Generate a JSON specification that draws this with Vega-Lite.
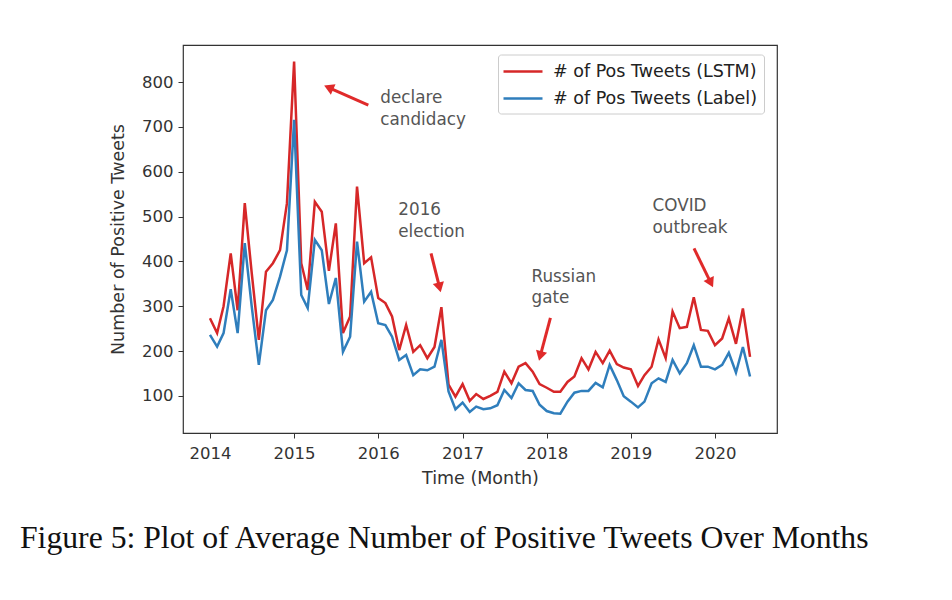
{
  "$schema": "https://vega.github.io/schema/vega-lite/v6.json",
  "autosize": {"type": "none"},
  "width": 594,
  "height": 388,
  "padding": {"left": 183, "top": 45, "right": 175, "bottom": 167},
  "background": "white",
  "config": {
    "font": "DejaVu Sans",
    "view": {"stroke": "#333333", "strokeWidth": 1.2},
    "axis": {
      "grid": false, "domain": false, "tickColor": "#333333", "tickSize": 5, "tickWidth": 1,
      "labelFont": "DejaVu Sans", "labelFontSize": 16.5, "labelColor": "#333333",
      "titleFont": "DejaVu Sans", "titleFontSize": 17.5, "titleFontWeight": "normal", "titleColor": "#333333"
    },
    "axisX": {"labelPadding": 7, "titlePadding": 8},
    "axisY": {"labelPadding": 5, "titlePadding": 14}
  },
  "title": {
    "text": "Figure 5: Plot of Average Number of Positive Tweets Over Months",
    "orient": "bottom", "anchor": "start", "frame": "group",
    "font": "Liberation Serif", "fontSize": 31.7, "fontWeight": "normal", "color": "#111111",
    "dx": -163, "offset": 36
  },
  "datasets": {
    "tweets": [
      {"month": "2014-01-01", "lstm": 273, "label": 236},
      {"month": "2014-02-01", "lstm": 240, "label": 210},
      {"month": "2014-03-01", "lstm": 300, "label": 240},
      {"month": "2014-04-01", "lstm": 418, "label": 338},
      {"month": "2014-05-01", "lstm": 291, "label": 240},
      {"month": "2014-06-01", "lstm": 530, "label": 441},
      {"month": "2014-07-01", "lstm": 375, "label": 300},
      {"month": "2014-08-01", "lstm": 225, "label": 169},
      {"month": "2014-09-01", "lstm": 377, "label": 291},
      {"month": "2014-10-01", "lstm": 396, "label": 314},
      {"month": "2014-11-01", "lstm": 425, "label": 366},
      {"month": "2014-12-01", "lstm": 530, "label": 425},
      {"month": "2015-01-01", "lstm": 846, "label": 716},
      {"month": "2015-02-01", "lstm": 396, "label": 325},
      {"month": "2015-03-01", "lstm": 336, "label": 296},
      {"month": "2015-04-01", "lstm": 533, "label": 448},
      {"month": "2015-05-01", "lstm": 511, "label": 425},
      {"month": "2015-06-01", "lstm": 379, "label": 305},
      {"month": "2015-07-01", "lstm": 485, "label": 363},
      {"month": "2015-08-01", "lstm": 240, "label": 198},
      {"month": "2015-09-01", "lstm": 277, "label": 232},
      {"month": "2015-10-01", "lstm": 567, "label": 444},
      {"month": "2015-11-01", "lstm": 396, "label": 310},
      {"month": "2015-12-01", "lstm": 409, "label": 332},
      {"month": "2016-01-01", "lstm": 318, "label": 262},
      {"month": "2016-02-01", "lstm": 307, "label": 258},
      {"month": "2016-03-01", "lstm": 277, "label": 232},
      {"month": "2016-04-01", "lstm": 202, "label": 180},
      {"month": "2016-05-01", "lstm": 258, "label": 191},
      {"month": "2016-06-01", "lstm": 198, "label": 146},
      {"month": "2016-07-01", "lstm": 213, "label": 159},
      {"month": "2016-08-01", "lstm": 184, "label": 157},
      {"month": "2016-09-01", "lstm": 209, "label": 165},
      {"month": "2016-10-01", "lstm": 298, "label": 225},
      {"month": "2016-11-01", "lstm": 125, "label": 110},
      {"month": "2016-12-01", "lstm": 98, "label": 70},
      {"month": "2017-01-01", "lstm": 126, "label": 85},
      {"month": "2017-02-01", "lstm": 89, "label": 64},
      {"month": "2017-03-01", "lstm": 104, "label": 76},
      {"month": "2017-04-01", "lstm": 93, "label": 70},
      {"month": "2017-05-01", "lstm": 100, "label": 72},
      {"month": "2017-06-01", "lstm": 109, "label": 79},
      {"month": "2017-07-01", "lstm": 154, "label": 113},
      {"month": "2017-08-01", "lstm": 128, "label": 95},
      {"month": "2017-09-01", "lstm": 165, "label": 128},
      {"month": "2017-10-01", "lstm": 173, "label": 113},
      {"month": "2017-11-01", "lstm": 154, "label": 111},
      {"month": "2017-12-01", "lstm": 126, "label": 80},
      {"month": "2018-01-01", "lstm": 118, "label": 66},
      {"month": "2018-02-01", "lstm": 109, "label": 61},
      {"month": "2018-03-01", "lstm": 109, "label": 60},
      {"month": "2018-04-01", "lstm": 131, "label": 87},
      {"month": "2018-05-01", "lstm": 143, "label": 107},
      {"month": "2018-06-01", "lstm": 184, "label": 111},
      {"month": "2018-07-01", "lstm": 159, "label": 111},
      {"month": "2018-08-01", "lstm": 198, "label": 129},
      {"month": "2018-09-01", "lstm": 173, "label": 119},
      {"month": "2018-10-01", "lstm": 201, "label": 169},
      {"month": "2018-11-01", "lstm": 171, "label": 135},
      {"month": "2018-12-01", "lstm": 163, "label": 99},
      {"month": "2019-01-01", "lstm": 159, "label": 87},
      {"month": "2019-02-01", "lstm": 122, "label": 74},
      {"month": "2019-03-01", "lstm": 146, "label": 87},
      {"month": "2019-04-01", "lstm": 165, "label": 128},
      {"month": "2019-05-01", "lstm": 226, "label": 139},
      {"month": "2019-06-01", "lstm": 184, "label": 131},
      {"month": "2019-07-01", "lstm": 288, "label": 180},
      {"month": "2019-08-01", "lstm": 251, "label": 150},
      {"month": "2019-09-01", "lstm": 254, "label": 173},
      {"month": "2019-10-01", "lstm": 320, "label": 213},
      {"month": "2019-11-01", "lstm": 247, "label": 165},
      {"month": "2019-12-01", "lstm": 245, "label": 165},
      {"month": "2020-01-01", "lstm": 213, "label": 159},
      {"month": "2020-02-01", "lstm": 228, "label": 169},
      {"month": "2020-03-01", "lstm": 273, "label": 196},
      {"month": "2020-04-01", "lstm": 216, "label": 152},
      {"month": "2020-05-01", "lstm": 295, "label": 209},
      {"month": "2020-06-01", "lstm": 187, "label": 143}
    ],
    "arrows": [
      {"event": "declare", "tail_date": "2015-11-19", "tail_value": 749, "head_date": "2015-05-31", "head_value": 788},
      {"event": "election", "tail_date": "2016-08-17", "tail_value": 418, "head_date": "2016-09-23", "head_value": 342},
      {"event": "russian", "tail_date": "2018-01-17", "tail_value": 274, "head_date": "2017-12-04", "head_value": 189},
      {"event": "covid", "tail_date": "2019-10-02", "tail_value": 429, "head_date": "2019-12-14", "head_value": 352}
    ],
    "notes": [
      {"text": "declare", "date": "2016-01-10", "value": 765},
      {"text": "candidacy", "date": "2016-01-10", "value": 716},
      {"text": "2016", "date": "2016-03-28", "value": 515},
      {"text": "election", "date": "2016-03-28", "value": 466},
      {"text": "Russian", "date": "2017-10-27", "value": 365},
      {"text": "gate", "date": "2017-10-27", "value": 318},
      {"text": "COVID", "date": "2019-04-05", "value": 524},
      {"text": "outbreak", "date": "2019-04-05", "value": 475}
    ]
  },
  "layer": [
    {
      "data": {"name": "tweets"},
      "transform": [{"fold": ["lstm", "label"], "as": ["series", "count"]}],
      "mark": {"type": "line", "strokeWidth": 2.5, "interpolate": "linear"},
      "encoding": {
        "x": {
          "field": "month", "type": "temporal", "title": "Time (Month)",
          "scale": {"type": "utc", "domain": [{"year": 2013, "month": 9, "date": 6, "utc": true}, {"year": 2020, "month": 9, "date": 26, "utc": true}]},
          "axis": {"format": "%Y", "values": [
            {"year": 2014, "utc": true}, {"year": 2015, "utc": true}, {"year": 2016, "utc": true}, {"year": 2017, "utc": true},
            {"year": 2018, "utc": true}, {"year": 2019, "utc": true}, {"year": 2020, "utc": true}]}
        },
        "y": {
          "field": "count", "type": "quantitative", "title": "Number of Positive Tweets",
          "scale": {"domain": [17, 883], "nice": false, "zero": false},
          "axis": {"values": [100, 200, 300, 400, 500, 600, 700, 800]}
        },
        "color": {
          "field": "series", "type": "nominal",
          "scale": {"domain": ["lstm", "label"], "range": ["#d62728", "#2f7ebc"]},
          "legend": {
            "title": null, "orient": "none", "legendX": 315, "legendY": 9.5,
            "labelExpr": "datum.label == 'lstm' ? '# of Pos Tweets (LSTM)' : '# of Pos Tweets (Label)'",
            "symbolType": "M-2,0L2,0", "symbolSize": 380, "symbolStrokeWidth": 2.5, "symbolOffset": 8,
            "labelFont": "DejaVu Sans", "labelFontSize": 17.5, "labelColor": "#222222", "labelLimit": 400, "labelOffset": 19,
            "strokeColor": "#cccccc", "fillColor": "white", "padding": 6, "cornerRadius": 3, "rowPadding": 7
          }
        }
      }
    },
    {
      "data": {"name": "arrows"},
      "mark": {"type": "rule", "color": "#e02a2a", "strokeWidth": 3},
      "encoding": {
        "x": {"field": "tail_date", "type": "temporal", "title": "Time (Month)"},
        "y": {"field": "tail_value", "type": "quantitative", "title": "Number of Positive Tweets"},
        "x2": {"field": "head_date"},
        "y2": {"field": "head_value"}
      }
    },
    {
      "data": {"name": "arrows"},
      "transform": [{"filter": "datum.event == 'declare'"}],
      "mark": {"type": "point", "shape": "triangle-up", "filled": true, "opacity": 1, "color": "#e02a2a", "size": 130, "angle": 294},
      "encoding": {
        "x": {"field": "head_date", "type": "temporal", "title": "Time (Month)"},
        "y": {"field": "head_value", "type": "quantitative", "title": "Number of Positive Tweets"}
      }
    },
    {
      "data": {"name": "arrows"},
      "transform": [{"filter": "datum.event == 'election'"}],
      "mark": {"type": "point", "shape": "triangle-up", "filled": true, "opacity": 1, "color": "#e02a2a", "size": 130, "angle": 166},
      "encoding": {
        "x": {"field": "head_date", "type": "temporal", "title": "Time (Month)"},
        "y": {"field": "head_value", "type": "quantitative", "title": "Number of Positive Tweets"}
      }
    },
    {
      "data": {"name": "arrows"},
      "transform": [{"filter": "datum.event == 'russian'"}],
      "mark": {"type": "point", "shape": "triangle-up", "filled": true, "opacity": 1, "color": "#e02a2a", "size": 130, "angle": 195},
      "encoding": {
        "x": {"field": "head_date", "type": "temporal", "title": "Time (Month)"},
        "y": {"field": "head_value", "type": "quantitative", "title": "Number of Positive Tweets"}
      }
    },
    {
      "data": {"name": "arrows"},
      "transform": [{"filter": "datum.event == 'covid'"}],
      "mark": {"type": "point", "shape": "triangle-up", "filled": true, "opacity": 1, "color": "#e02a2a", "size": 130, "angle": 154},
      "encoding": {
        "x": {"field": "head_date", "type": "temporal", "title": "Time (Month)"},
        "y": {"field": "head_value", "type": "quantitative", "title": "Number of Positive Tweets"}
      }
    },
    {
      "data": {"name": "notes"},
      "mark": {"type": "text", "align": "left", "baseline": "middle", "font": "DejaVu Sans", "fontSize": 16.8, "color": "#555555"},
      "encoding": {
        "x": {"field": "date", "type": "temporal", "title": "Time (Month)"},
        "y": {"field": "value", "type": "quantitative", "title": "Number of Positive Tweets"},
        "text": {"field": "text"}
      }
    }
  ]
}
